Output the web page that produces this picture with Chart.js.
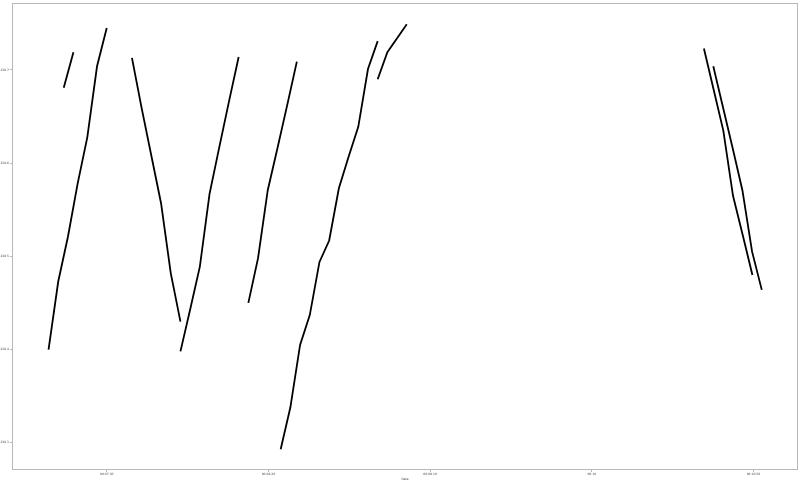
<!DOCTYPE html>
<html>
<head>
<meta charset="utf-8">
<script src="https://cdn.jsdelivr.net/npm/chart.js@4/dist/chart.umd.min.js"></script>
<style>
  html, body { margin: 0; padding: 0; background: #fff; }
  #wrap { width: 800px; height: 481px; }
</style>
</head>
<body>
<div id="wrap"><canvas id="c" width="800" height="481"></canvas></div>
<script>
// Time in seconds since 00:00:00
const seg1Times  = [432, 435, 438, 441, 444, 447, 450];
const seg1Values = [238.400, 238.473, 238.521, 238.578, 238.628, 238.704, 238.745];

const seg2Times  = [436.7, 439.7];
const seg2Values = [238.681, 238.719];

const seg3Times  = [457.8, 460.8, 463.8, 466.8, 469.8, 472.8];
const seg3Values = [238.713, 238.659, 238.608, 238.557, 238.482, 238.430];

const seg4Times  = [472.8, 475.8, 478.8, 481.8, 484.8, 487.8, 490.8];
const seg4Values = [238.398, 238.443, 238.489, 238.567, 238.617, 238.666, 238.714];

const seg5Times  = [493.8, 496.8, 499.8, 502.8, 505.8, 508.8];
const seg5Values = [238.450, 238.498, 238.571, 238.616, 238.662, 238.709];

const seg6Times  = [503.8, 506.8, 509.8, 512.8, 515.8, 518.8, 521.8, 524.8, 527.8, 530.8, 533.8];
const seg6Values = [238.293, 238.338, 238.405, 238.437, 238.494, 238.517, 238.573, 238.607, 238.639, 238.701, 238.731];

const seg7Times  = [533.8, 536.8, 539.8, 542.8];
const seg7Values = [238.690, 238.719, 238.734, 238.749];

const seg8Times  = [634.7, 637.7, 640.7, 643.7, 646.7, 649.7];
const seg8Values = [238.723, 238.679, 238.635, 238.565, 238.523, 238.480];

const seg9Times  = [637.6, 640.6, 643.6, 646.6, 649.6, 652.6];
const seg9Values = [238.704, 238.660, 238.616, 238.571, 238.505, 238.464];

const xTickValues = [450, 500, 550, 600, 650];
const xTickLabels = ["00:07:30", "00:08:20", "00:09:10", "00:10", "00:10:50"];
const yTickValues = [238.3, 238.4, 238.5, 238.6, 238.7];
const xAxisTitle = "Date";

const segments = [
  [seg1Times, seg1Values], [seg2Times, seg2Values], [seg3Times, seg3Values],
  [seg4Times, seg4Values], [seg5Times, seg5Values], [seg6Times, seg6Values],
  [seg7Times, seg7Values], [seg8Times, seg8Values], [seg9Times, seg9Values]
];

const datasets = segments.map(([t, v]) => ({
  data: t.map((x, i) => ({ x: x, y: v[i] })),
  borderColor: '#000',
  borderWidth: 1.8,
  pointRadius: 0,
  tension: 0,
  fill: false
}));

const framePlugin = {
  id: 'frame',
  afterDraw(chart) {
    const a = chart.chartArea, ctx = chart.ctx;
    ctx.save();
    ctx.strokeStyle = '#b8b8b8';
    ctx.lineWidth = 1;
    ctx.strokeRect(Math.round(a.left) + 0.5, Math.round(a.top) + 0.5,
                   Math.round(a.right - a.left) - 1, Math.round(a.bottom - a.top) - 1);
    ctx.restore();
  }
};

new Chart(document.getElementById('c'), {
  type: 'line',
  data: { datasets },
  plugins: [framePlugin],
  options: {
    responsive: false,
    animation: false,
    events: [],
    layout: { padding: { top: 2, right: 2, left: 0, bottom: 0 } },
    plugins: { legend: { display: false }, tooltip: { enabled: false } },
    scales: {
      x: {
        type: 'linear',
        min: 420.7,
        max: 663.8,
        afterBuildTicks: (axis) => { axis.ticks = xTickValues.map(v => ({ value: v })); },
        afterFit: (axis) => { axis.height = 11; },
        ticks: {
          autoSkip: false, maxRotation: 0, padding: 0,
          color: '#444',
          font: { family: 'DejaVu Sans', size: 3 },
          callback: (v) => { const i = xTickValues.indexOf(v); return i >= 0 ? xTickLabels[i] : ''; }
        },
        grid: { drawOnChartArea: false, drawTicks: true, tickLength: 2, color: '#b8b8b8' },
        border: { display: false },
        title: { display: true, text: xAxisTitle, color: '#444', font: { family: 'DejaVu Sans', size: 3 }, padding: 0 }
      },
      y: {
        type: 'linear',
        min: 238.2707,
        max: 238.7721,
        afterBuildTicks: (axis) => { axis.ticks = yTickValues.map(v => ({ value: v })); },
        afterFit: (axis) => { axis.width = 12; },
        ticks: {
          padding: 1,
          color: '#444',
          font: { family: 'DejaVu Sans', size: 3 },
          callback: (v) => Number(v).toFixed(1)
        },
        grid: { drawOnChartArea: false, drawTicks: true, tickLength: 2, color: '#b8b8b8' },
        border: { display: false }
      }
    }
  }
});
</script>
</body>
</html>
